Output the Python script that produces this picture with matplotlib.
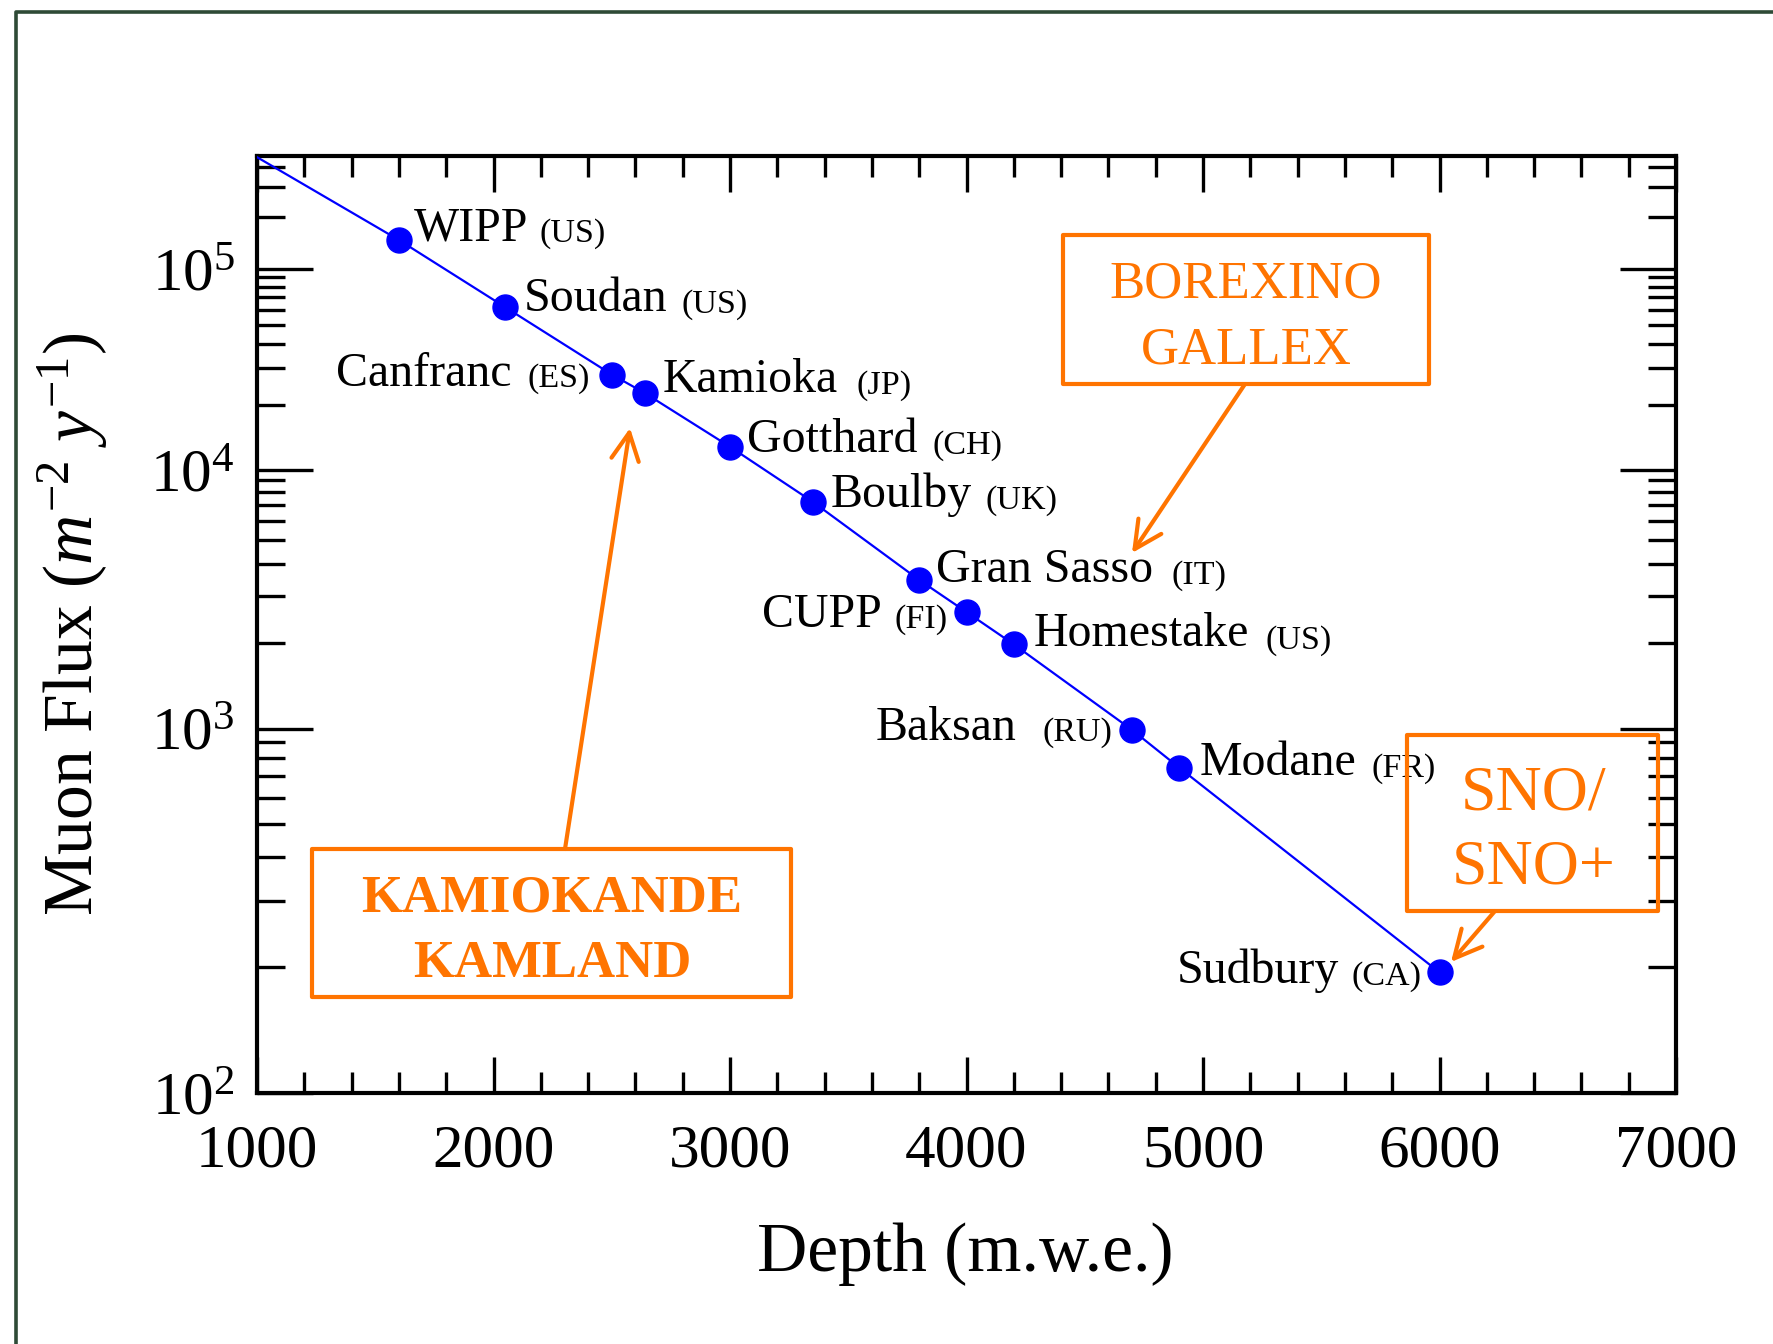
import numpy as np
import matplotlib
matplotlib.use("Agg")
import matplotlib.pyplot as plt
from matplotlib.lines import Line2D
from matplotlib.patches import Rectangle
from matplotlib.ticker import FixedLocator, FixedFormatter

plt.rcParams['font.family'] = ['Liberation Serif', 'DejaVu Serif']
plt.rcParams['mathtext.fontset'] = 'custom'
plt.rcParams['mathtext.rm'] = 'Liberation Serif'
plt.rcParams['mathtext.it'] = 'Liberation Serif:italic'

# ---------------- data ----------------
labs = ["WIPP", "Soudan", "Canfranc", "Kamioka", "Gotthard", "Boulby",
        "Gran Sasso", "CUPP", "Homestake", "Baksan", "Modane", "Sudbury"]
countries = ["(US)", "(US)", "(ES)", "(JP)", "(CH)", "(UK)",
             "(IT)", "(FI)", "(US)", "(RU)", "(FR)", "(CA)"]
depth = [1600, 2050, 2500, 2640, 3000, 3350, 3800, 4000, 4200, 4700, 4900, 6000]
flux = [1.46e5, 6.2e4, 2.8e4, 2.27e4, 1.27e4, 7.25e3, 3.46e3, 2.6e3, 1.97e3, 9.9e2, 7.45e2, 1.94e2]
line_start_depth = [1000]
line_start_flux = [4.6e5]

xticks = [1000, 2000, 3000, 4000, 5000, 6000, 7000]
yticks = [1e2, 1e3, 1e4, 1e5]
yticklabels = [r"$10^{2}$", r"$10^{3}$", r"$10^{4}$", r"$10^{5}$"]

box_texts = ["BOREXINO\nGALLEX", "KAMIOKANDE\nKAMLAND", "SNO/\nSNO+"]

# ---------------- layout (pixels) ----------------
W, H = 1774, 1344
AX_L, AX_R, AX_T, AX_B = 257, 1676, 156, 1093.3
BLUE = "#0000FF"
ORANGE = "#FF7400"

fig = plt.figure(figsize=(W / 100, H / 100), dpi=100)
ax = fig.add_axes([AX_L / W, 1 - AX_B / H, (AX_R - AX_L) / W, (AX_B - AX_T) / H])


def fwd(v):
    v = np.asarray(v, dtype=float)
    with np.errstate(all="ignore"):
        return np.log(np.log10(v))


def inv(u):
    u = np.asarray(u, dtype=float)
    return 10 ** np.exp(u)


ax.set_yscale("function", functions=(fwd, inv))
ax.set_xlim(1000, 7000)
ax.set_ylim(100, 10 ** 5.67)

# line + markers
ax.plot(line_start_depth + depth, line_start_flux + flux, color=BLUE, lw=1.6, zorder=3)
ax.plot(depth, flux, "o", color=BLUE, ms=18, mec=BLUE, zorder=4)

# ticks
ax.xaxis.set_major_locator(FixedLocator(xticks))
ax.xaxis.set_minor_locator(FixedLocator(np.arange(1000, 7001, 200)))
ax.yaxis.set_major_locator(FixedLocator(yticks))
ax.yaxis.set_major_formatter(FixedFormatter(yticklabels))
yminor = [k * 10.0 ** n for n in range(2, 6) for k in range(2, 10)]
ax.yaxis.set_minor_locator(FixedLocator(yminor))
ax.yaxis.set_minor_formatter(FixedFormatter([""] * len(yminor)))

ax.tick_params(which="both", direction="in", top=True, right=True, width=2.4, color="black")
ax.tick_params(axis="x", which="major", length=26, labelsize=44, pad=22)
ax.tick_params(axis="x", which="minor", length=15)
ax.tick_params(axis="y", which="major", length=40, labelsize=44, pad=16)
ax.tick_params(axis="y", which="minor", length=20)
for s in ax.spines.values():
    s.set_linewidth(3)

ax.set_xlabel("Depth (m.w.e.)", fontsize=50)
ax.xaxis.set_label_coords((965 - AX_L) / (AX_R - AX_L), (AX_B - 1222) / (AX_B - AX_T))
ax.set_ylabel(r"Muon Flux ($m^{-2}\ y^{-1}$)", fontsize=50)
ax.yaxis.set_label_coords((110 - AX_L) / (AX_R - AX_L), 0.5)

# station labels: offsets (px from marker centre) for name and country code
name_off = [(15, 0), (18, 4), (-276, 11), (18, -1), (17, 5), (18, 5),
            (17, 2), (-205, 15), (20, 2), (-256, 10), (20, 7), (-263, 11)]
code_off = [(141, 2), (176, 6), (-84, 12), (212, 1), (202, 7), (173, 7),
            (252, 4), (-72, 16), (252, 4), (-90, 11), (192, 9), (-88, 12)]
PX = 0.72
for i in range(len(depth)):
    nx, ny = name_off[i]
    cx, cy = code_off[i]
    ax.annotate(labs[i], (depth[i], flux[i]), xytext=(nx * PX, -ny * PX),
                textcoords="offset points", ha="left", va="baseline",
                fontsize=34.5, zorder=5)
    ax.annotate(countries[i], (depth[i], flux[i]), xytext=(cx * PX, -cy * PX),
                textcoords="offset points", ha="left", va="baseline",
                fontsize=24.5, zorder=5)


def axf(x, y):
    return ((x - AX_L) / (AX_R - AX_L), (AX_B - y) / (AX_B - AX_T))


# orange boxes (pixel rectangles: left, top, right, bottom)
boxes = [(1063, 235, 1429, 384), (312, 849, 791, 997), (1407, 735, 1658, 911)]
text_pos = [(1246, [298, 363]), (552, [912, 977]), (1534, [810, 883])]
text_size = [38, 38, 46]
text_weight = ["normal", "bold", "normal"]
arrows = [((1245, 384), (1132, 553)), ((565, 849), (630, 428)), ((1495, 911), (1451, 962))]

for b, (tx, tys), fs, fw, txt, (a0, a1) in zip(boxes, text_pos, text_size, text_weight, box_texts, arrows):
    x0, y0 = axf(b[0], b[3])
    x1, y1 = axf(b[2], b[1])
    ax.add_patch(Rectangle((x0, y0), x1 - x0, y1 - y0, transform=ax.transAxes,
                           fill=False, ec=ORANGE, lw=3, joinstyle="round", zorder=6, clip_on=False))
    for line, ty in zip(txt.split("\n"), tys):
        xx, yy = axf(tx, ty)
        ax.text(xx, yy, line, transform=ax.transAxes, ha="center", va="baseline",
                fontsize=fs, fontweight=fw, color=ORANGE, zorder=6)
    ax.annotate("", xy=axf(*a1), xytext=axf(*a0), xycoords="axes fraction",
                textcoords="axes fraction",
                arrowprops=dict(arrowstyle="->,head_length=0.9,head_width=0.45", lw=3,
                                color=ORANGE, shrinkA=0, shrinkB=0, mutation_scale=22),
                zorder=6)

# dark green frame around figure (partially cropped)
fig.add_artist(Line2D([16 / W, 16 / W, 1.01], [-0.01, 1 - 11.5 / H, 1 - 11.5 / H],
                      transform=fig.transFigure, color="#2E4A36", lw=2.6))

fig.savefig("out.png", dpi=100)
